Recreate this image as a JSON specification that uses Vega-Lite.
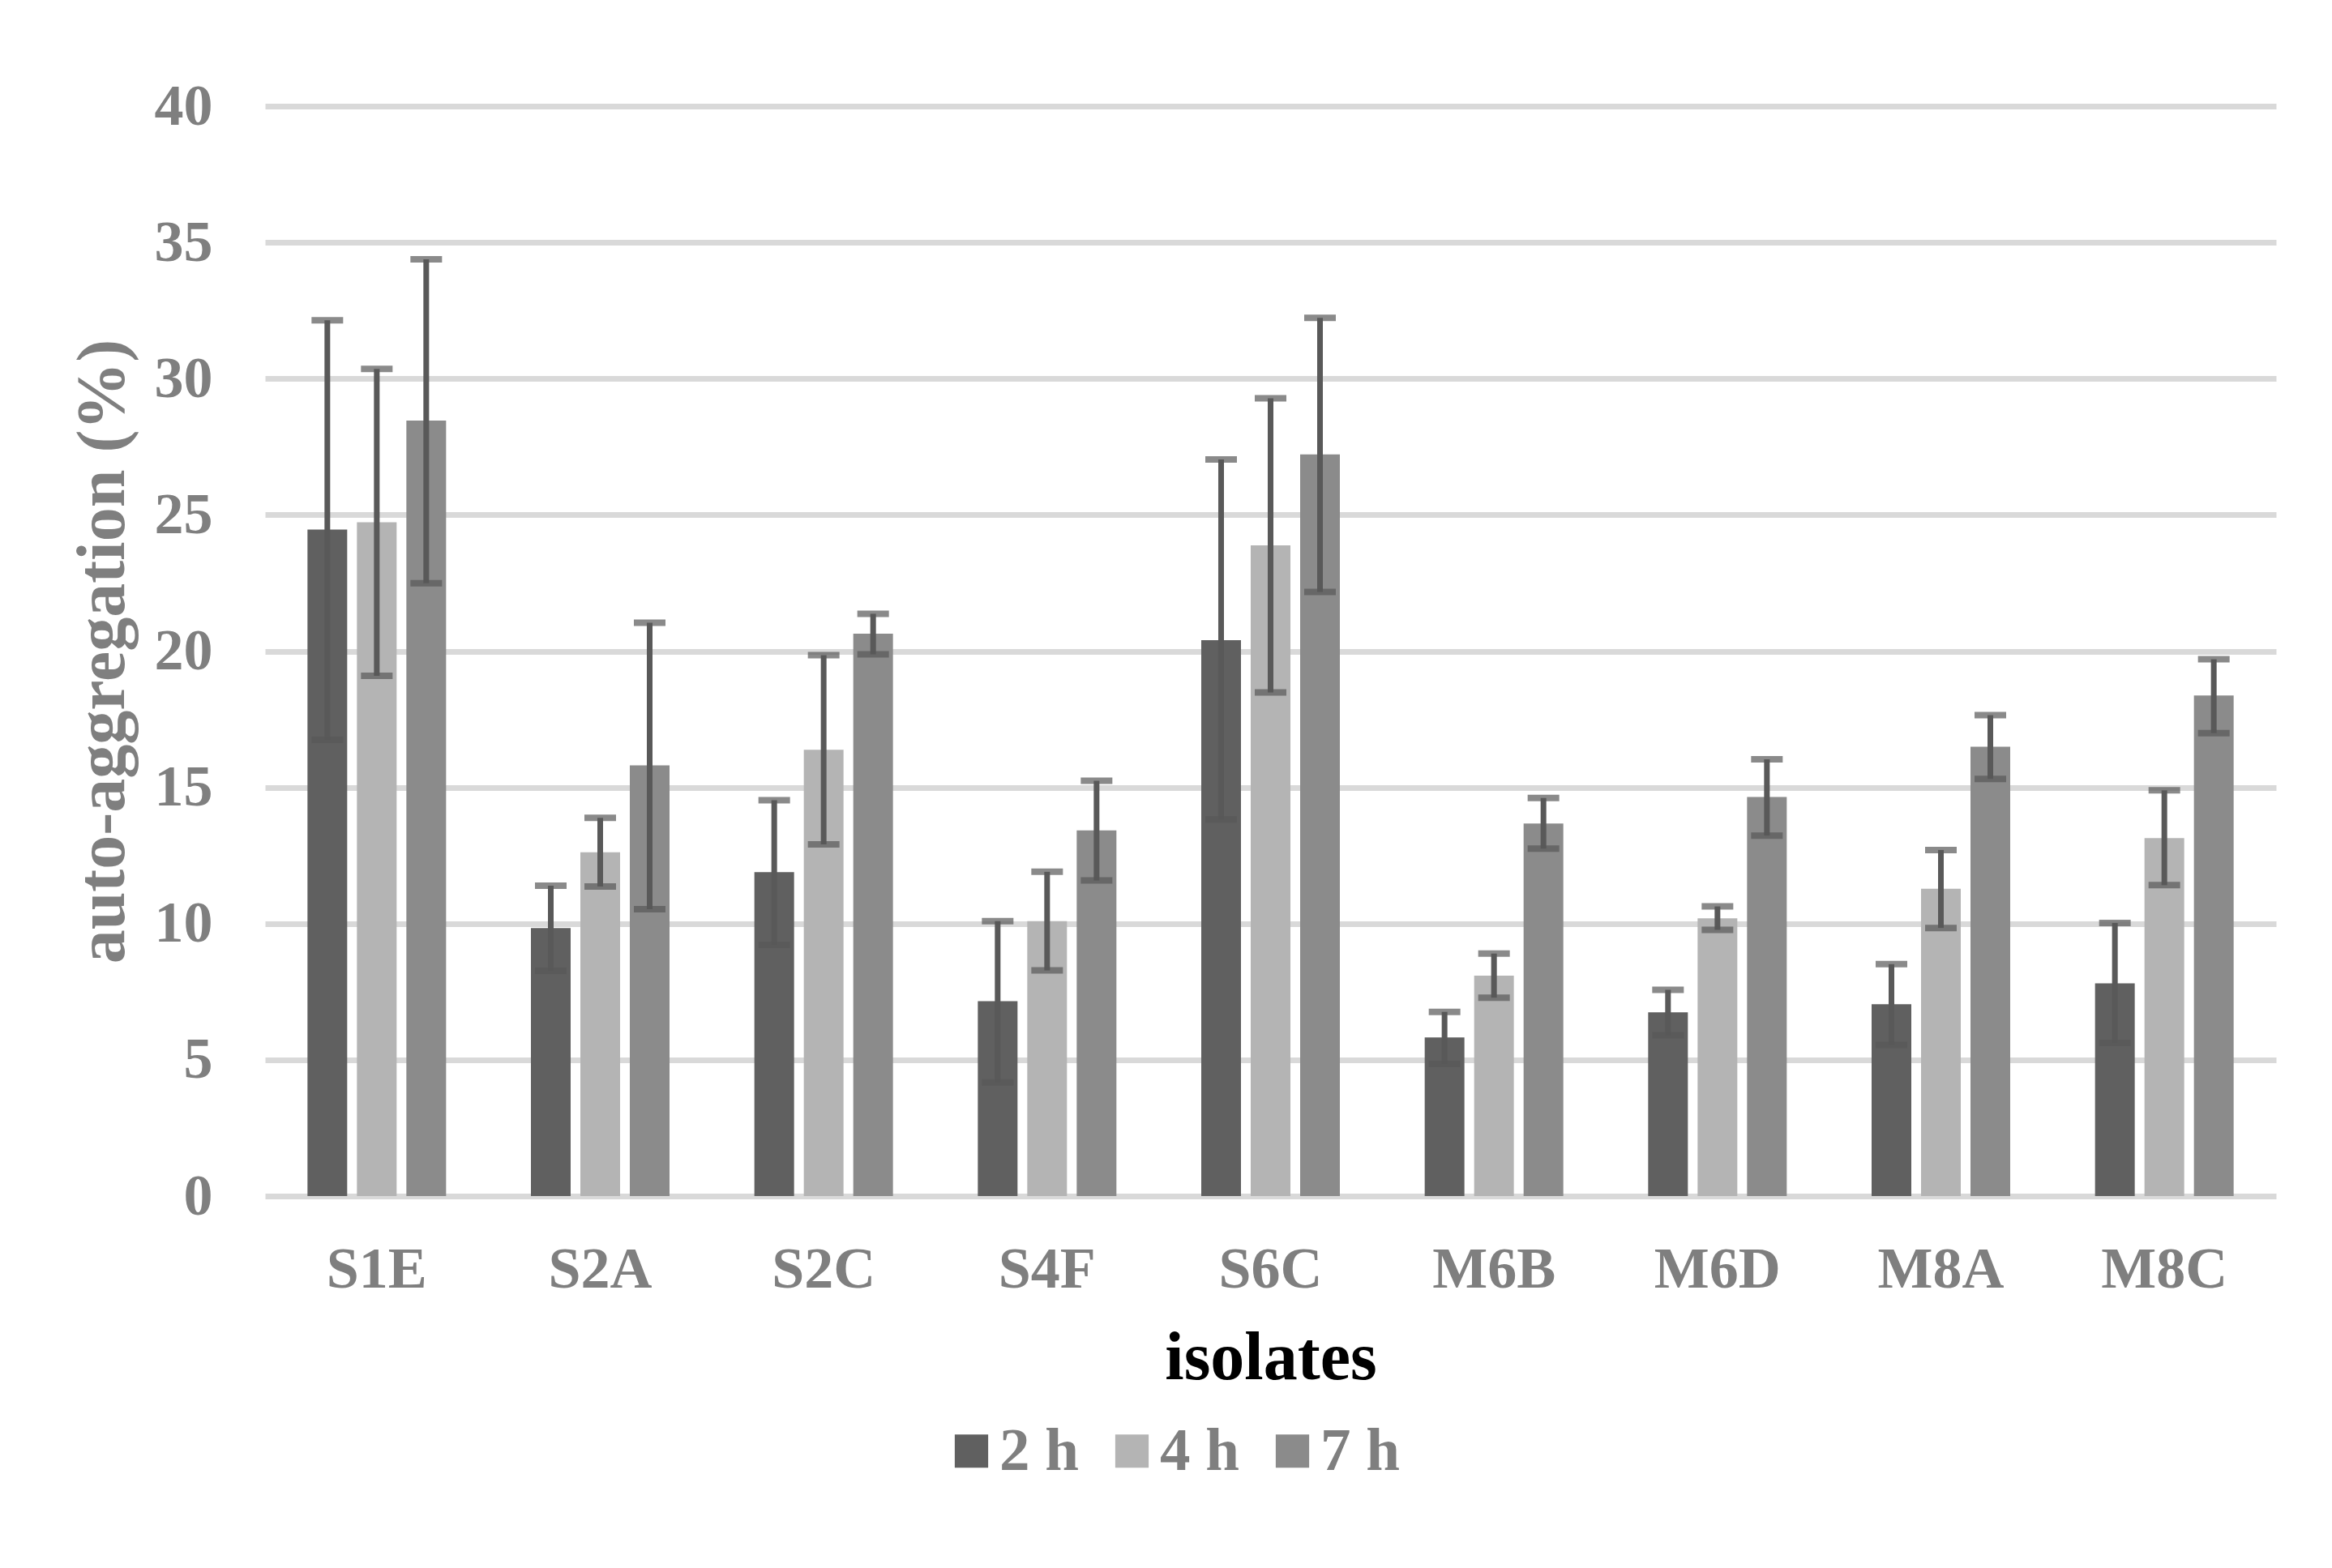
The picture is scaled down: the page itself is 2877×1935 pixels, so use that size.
{
  "$schema": "https://vega.github.io/schema/vega-lite/v6.json",
  "width": 2481,
  "height": 1345,
  "autosize": {"type": "none"},
  "padding": {"left": 327, "top": 131, "right": 69, "bottom": 459},
  "background": "white",
  "config": {
    "font": "Liberation Serif",
    "view": {"stroke": null}
  },
  "data": {
    "values": [
      {"isolate": "S1E", "time": "2 h", "value": 24.46, "lo": 16.74, "hi": 32.14},
      {"isolate": "S1E", "time": "4 h", "value": 24.73, "lo": 19.09, "hi": 30.36},
      {"isolate": "S1E", "time": "7 h", "value": 28.46, "lo": 22.49, "hi": 34.38},
      {"isolate": "S2A", "time": "2 h", "value": 9.84, "lo": 8.27, "hi": 11.39},
      {"isolate": "S2A", "time": "4 h", "value": 12.62, "lo": 11.36, "hi": 13.88},
      {"isolate": "S2A", "time": "7 h", "value": 15.81, "lo": 10.53, "hi": 21.04},
      {"isolate": "S2C", "time": "2 h", "value": 11.89, "lo": 9.22, "hi": 14.53},
      {"isolate": "S2C", "time": "4 h", "value": 16.38, "lo": 12.91, "hi": 19.85},
      {"isolate": "S2C", "time": "7 h", "value": 20.64, "lo": 19.88, "hi": 21.37},
      {"isolate": "S4F", "time": "2 h", "value": 7.15, "lo": 4.17, "hi": 10.09},
      {"isolate": "S4F", "time": "4 h", "value": 10.09, "lo": 8.28, "hi": 11.9},
      {"isolate": "S4F", "time": "7 h", "value": 13.42, "lo": 11.58, "hi": 15.24},
      {"isolate": "S6C", "time": "2 h", "value": 20.4, "lo": 13.82, "hi": 27.03},
      {"isolate": "S6C", "time": "4 h", "value": 23.88, "lo": 18.48, "hi": 29.28},
      {"isolate": "S6C", "time": "7 h", "value": 27.22, "lo": 22.17, "hi": 32.23},
      {"isolate": "M6B", "time": "2 h", "value": 5.82, "lo": 4.85, "hi": 6.76},
      {"isolate": "M6B", "time": "4 h", "value": 8.09, "lo": 7.28, "hi": 8.9},
      {"isolate": "M6B", "time": "7 h", "value": 13.67, "lo": 12.75, "hi": 14.61},
      {"isolate": "M6D", "time": "2 h", "value": 6.74, "lo": 5.9, "hi": 7.57},
      {"isolate": "M6D", "time": "4 h", "value": 10.19, "lo": 9.77, "hi": 10.63},
      {"isolate": "M6D", "time": "7 h", "value": 14.65, "lo": 13.23, "hi": 16.03},
      {"isolate": "M8A", "time": "2 h", "value": 7.04, "lo": 5.55, "hi": 8.51},
      {"isolate": "M8A", "time": "4 h", "value": 11.28, "lo": 9.84, "hi": 12.7},
      {"isolate": "M8A", "time": "7 h", "value": 16.49, "lo": 15.31, "hi": 17.65},
      {"isolate": "M8C", "time": "2 h", "value": 7.81, "lo": 5.62, "hi": 10.02},
      {"isolate": "M8C", "time": "4 h", "value": 13.14, "lo": 11.41, "hi": 14.89},
      {"isolate": "M8C", "time": "7 h", "value": 18.37, "lo": 16.99, "hi": 19.7}
    ]
  },
  "encoding": {
    "x": {
      "field": "isolate",
      "type": "nominal",
      "sort": ["S1E", "S2A", "S2C", "S4F", "S6C", "M6B", "M6D", "M8A", "M8C"],
      "scale": {"paddingInner": 0, "paddingOuter": 0},
      "axis": {
        "title": "isolates",
        "labelAngle": 0,
        "labelFont": "Liberation Serif",
        "labelFontWeight": "bold",
        "labelFontSize": 72,
        "labelColor": "#7f7f7f",
        "labelPadding": 55,
        "ticks": false,
        "tickSize": 0,
        "domain": false,
        "grid": false,
        "titleFont": "Liberation Serif",
        "titleFontWeight": "bold",
        "titleFontSize": 84,
        "titleColor": "#000000",
        "titlePadding": 33
      }
    },
    "xOffset": {
      "field": "time",
      "type": "nominal",
      "sort": ["2 h", "4 h", "7 h"],
      "scale": {"paddingInner": 0.197, "paddingOuter": 0.858}
    }
  },
  "layer": [
    {
      "mark": {"type": "bar"},
      "encoding": {
        "y": {
          "field": "value",
          "type": "quantitative",
          "scale": {"domain": [0, 40]},
          "axis": {
            "title": "auto-aggregation (%)",
            "values": [0, 5, 10, 15, 20, 25, 30, 35, 40],
            "grid": true,
            "gridColor": "#d9d9d9",
            "gridWidth": 7,
            "domain": false,
            "ticks": false,
            "tickSize": 0,
            "labelFont": "Liberation Serif",
            "labelFontWeight": "bold",
            "labelFontSize": 72,
            "labelColor": "#7f7f7f",
            "labelPadding": 65,
            "titleFont": "Liberation Serif",
            "titleFontWeight": "bold",
            "titleFontSize": 84,
            "titleColor": "#7f7f7f",
            "titlePadding": 20
          }
        },
        "color": {
          "field": "time",
          "type": "nominal",
          "scale": {"domain": ["2 h", "4 h", "7 h"], "range": ["#606060", "#b4b4b4", "#8b8b8b"]},
          "legend": {
            "title": null,
            "orient": "none",
            "direction": "horizontal",
            "legendX": 834,
            "legendY": 1622,
            "padding": 0,
            "symbolType": "square",
            "symbolSize": 1700,
            "symbolStrokeWidth": 0,
            "labelFont": "Liberation Serif",
            "labelFontWeight": "bold",
            "labelFontSize": 75,
            "labelColor": "#7f7f7f",
            "labelOffset": -3,
            "columnPadding": 28
          }
        }
      }
    },
    {
      "mark": {"type": "rule", "color": "#595959", "strokeWidth": 7},
      "encoding": {
        "y": {"field": "lo", "type": "quantitative"},
        "y2": {"field": "hi"}
      }
    },
    {
      "mark": {"type": "tick", "color": "#595959", "size": 39, "thickness": 8},
      "encoding": {
        "y": {"field": "hi", "type": "quantitative"}
      }
    },
    {
      "mark": {"type": "tick", "color": "#595959", "size": 39, "thickness": 8},
      "encoding": {
        "y": {"field": "lo", "type": "quantitative"}
      }
    }
  ]
}
